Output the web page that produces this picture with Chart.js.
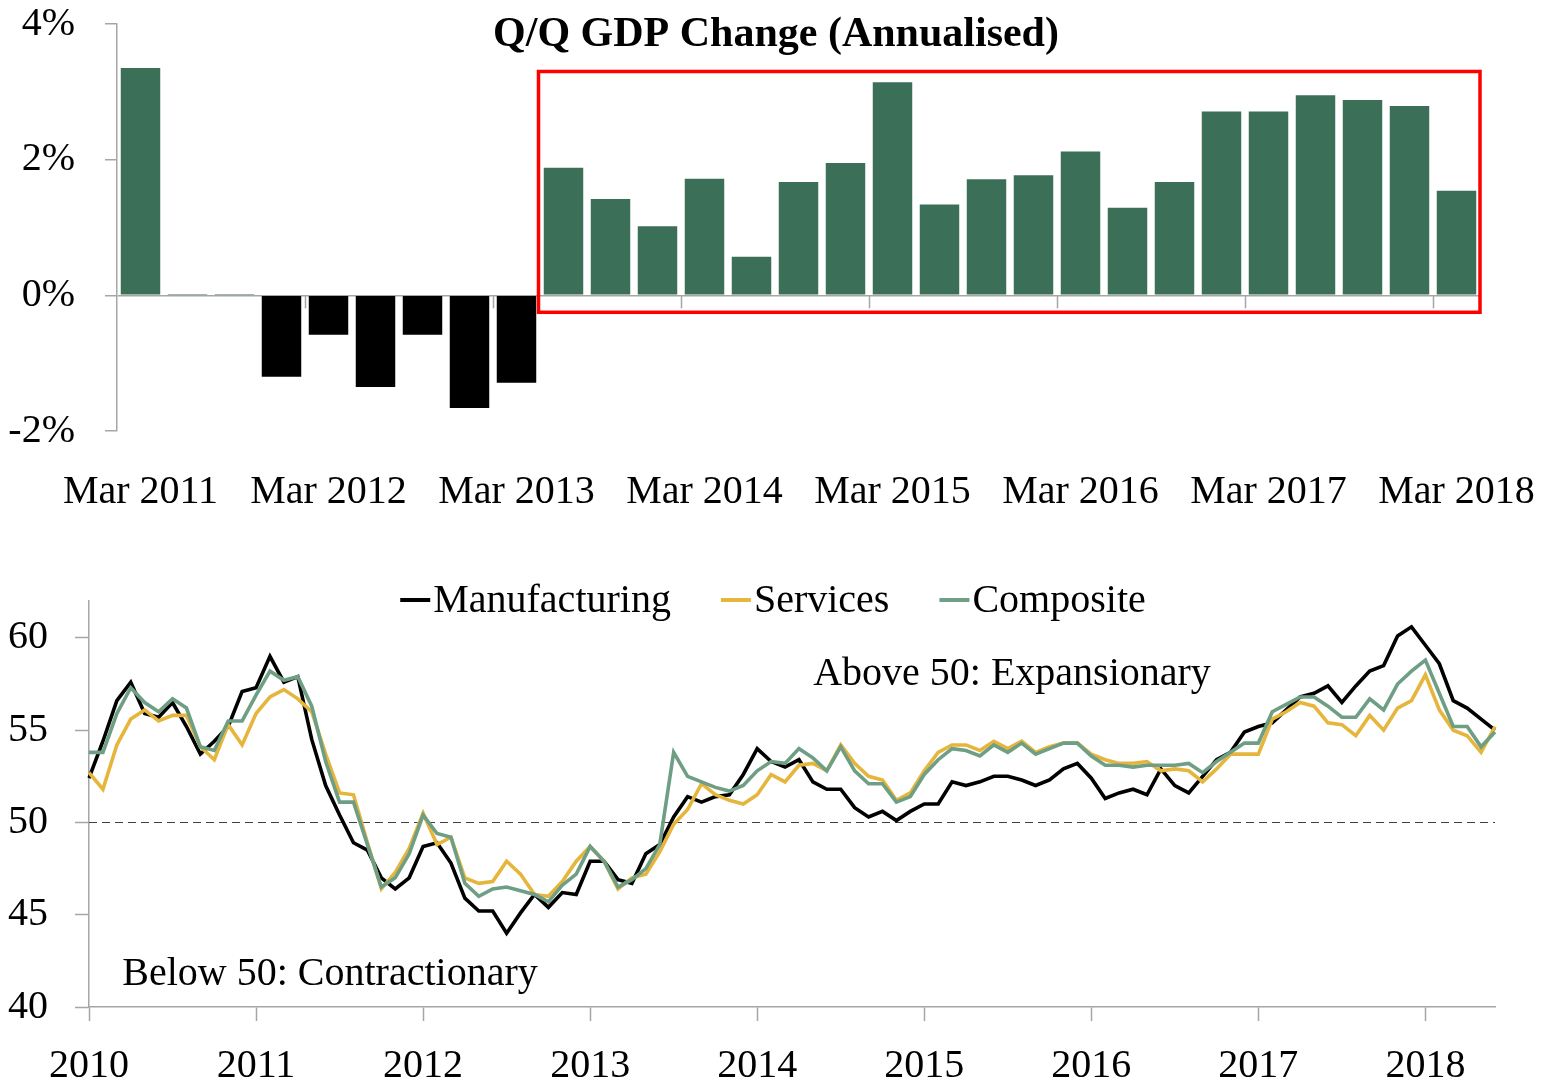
<!DOCTYPE html>
<html>
<head>
<meta charset="utf-8">
<script src="https://cdn.jsdelivr.net/npm/chart.js@4.4.1/dist/chart.umd.min.js"></script>
<style>
  html, body { margin: 0; padding: 0; background: #ffffff; overflow: hidden; }
  #wrap { position: relative; width: 1556px; height: 1083px; }
  #c1 { position: absolute; left: 0; top: 0; }
  #c2 { position: absolute; left: 0; top: 520px; }
</style>
</head>
<body>
<div id="wrap">
  <canvas id="c1" width="1556" height="520"></canvas>
  <canvas id="c2" width="1556" height="563"></canvas>
</div>
<script>
// ---------------- DATA ----------------
const GDP_TITLE = 'Q/Q GDP Change (Annualised)';
const QUARTERS = ['Mar 2011','Jun 2011','Sep 2011','Dec 2011','Mar 2012','Jun 2012','Sep 2012','Dec 2012',
  'Mar 2013','Jun 2013','Sep 2013','Dec 2013','Mar 2014','Jun 2014','Sep 2014','Dec 2014',
  'Mar 2015','Jun 2015','Sep 2015','Dec 2015','Mar 2016','Jun 2016','Sep 2016','Dec 2016',
  'Mar 2017','Jun 2017','Sep 2017','Dec 2017','Mar 2018'];
const GDP_QQ = [3.35, 0.02, 0.02, -1.2, -0.58, -1.35, -0.58, -1.66,
  -1.29, 1.88, 1.42, 1.02, 1.72, 0.57, 1.67, 1.95,
  3.14, 1.34, 1.71, 1.77, 2.12, 1.29, 1.67, 2.71,
  2.71, 2.95, 2.88, 2.79, 1.54];
const GDP_TICKS = [-2, 0, 2, 4];
const HIGHLIGHT_FROM = 'Jun 2013';
const HIGHLIGHT_TO = 'Mar 2018';
const HIGHLIGHT_TOP = 3.3;
const HIGHLIGHT_BOTTOM = -0.25;

// monthly categories Jan 2010 .. Jun 2018
const MONTHS = [];
for (let y = 2010; y <= 2018; y++) {
  for (let m = 1; m <= 12; m++) {
    if (y === 2018 && m > 6) break;
    MONTHS.push(y + '-' + String(m).padStart(2, '0'));
  }
}
const YEAR_TICKS = ['2010','2011','2012','2013','2014','2015','2016','2017','2018'];
const PMI_TICKS = [40, 45, 50, 55, 60];

const MANUFACTURING = [
  52.4, 54.4, 56.6, 57.6, 55.9, 55.7, 56.5, 55.2, 53.7, 54.4, 55.2, 57.1,
  57.3, 59.0, 57.6, 57.9, 54.5, 52.0, 50.4, 48.9, 48.5, 47.0, 46.4, 47.0,
  48.7, 48.9, 47.8, 45.9, 45.2, 45.2, 44.0, 45.1, 46.1, 45.4, 46.2, 46.1,
  47.9, 47.9, 46.9, 46.7, 48.3, 48.8, 50.3, 51.4, 51.1, 51.4, 51.5, 52.6,
  54.0, 53.3, 53.0, 53.4, 52.2, 51.8, 51.8, 50.8, 50.3, 50.6, 50.1, 50.6,
  51.0, 51.0, 52.2, 52.0, 52.2, 52.5, 52.5, 52.3, 52.0, 52.3, 52.9, 53.2,
  52.4, 51.3, 51.6, 51.8, 51.5, 52.9, 52.0, 51.6, 52.5, 53.4, 53.8, 54.9,
  55.2, 55.4, 56.1, 56.8, 57.0, 57.4, 56.5, 57.4, 58.2, 58.5, 60.1, 60.6,
  59.6, 58.6, 56.6, 56.2, 55.6, 55.0];
const SERVICES = [
  52.7, 51.8, 54.2, 55.6, 56.1, 55.5, 55.8, 55.8, 54.1, 53.4, 55.3, 54.2,
  55.9, 56.8, 57.2, 56.7, 56.0, 53.7, 51.6, 51.5, 48.9, 46.4, 47.3, 48.6,
  50.5, 48.8, 49.2, 47.0, 46.7, 46.8, 47.9, 47.2, 46.1, 46.0, 46.8, 47.9,
  48.7, 47.9, 46.4, 47.0, 47.2, 48.4, 49.9, 50.7, 52.1, 51.5, 51.2, 51.0,
  51.5, 52.6, 52.2, 53.1, 53.2, 52.8, 54.2, 53.2, 52.5, 52.3, 51.2, 51.6,
  52.8, 53.8, 54.2, 54.2, 53.9, 54.4, 54.0, 54.4, 53.8, 54.1, 54.3, 54.3,
  53.7, 53.4, 53.2, 53.2, 53.3, 52.8, 52.9, 52.8, 52.2, 52.9, 53.7, 53.7,
  53.7, 55.6, 56.0, 56.5, 56.3, 55.4, 55.3, 54.7, 55.8, 55.0, 56.2, 56.6,
  58.0, 56.1, 55.0, 54.7, 53.8, 55.2];
const COMPOSITE = [
  53.8, 53.8, 55.9, 57.3, 56.5, 56.0, 56.7, 56.2, 54.1, 53.9, 55.5, 55.5,
  56.9, 58.2, 57.7, 57.9, 56.3, 53.3, 51.1, 51.1, 48.8, 46.5, 47.0, 48.3,
  50.4, 49.4, 49.2, 46.7, 46.0, 46.4, 46.5, 46.3, 46.1, 45.7, 46.6, 47.2,
  48.7, 47.9, 46.5, 46.9, 47.5, 48.8, 53.8, 52.5, 52.2, 51.9, 51.7, 52.0,
  52.8, 53.3, 53.2, 54.0, 53.5, 52.8, 54.1, 52.8, 52.1, 52.1, 51.1, 51.4,
  52.6, 53.4, 54.0, 53.9, 53.6, 54.2, 53.8, 54.3, 53.7, 54.0, 54.3, 54.3,
  53.6, 53.1, 53.1, 53.0, 53.1, 53.1, 53.1, 53.2, 52.7, 53.3, 53.8, 54.3,
  54.3, 56.0, 56.4, 56.8, 56.8, 56.3, 55.7, 55.7, 56.7, 56.1, 57.5, 58.2,
  58.8, 57.0, 55.2, 55.2, 54.1, 54.9];
const THRESHOLD = 50;
const LABEL_ABOVE = 'Above 50: Expansionary';
const LABEL_BELOW = 'Below 50: Contractionary';

// ---------------- STYLE ----------------
const FONT = "'Liberation Serif', 'Times New Roman', serif";
const AXIS_GREY = '#a6a6a6';
const GREEN = '#3c6f58';
const C_MAN = '#000000';
const C_SER = '#e6b53c';
const C_COM = '#6e9e84';

Chart.defaults.font.family = FONT;
Chart.defaults.font.size = 40;
Chart.defaults.color = '#000000';
Chart.defaults.animation = false;

// ---------------- TOP: GDP bars ----------------
const gdpDecor = {
  id: 'gdpDecor',
  afterDatasetsDraw(chart) {
    const ctx = chart.ctx, xs = chart.scales.x, ys = chart.scales.y;
    const half = (xs.getPixelForValue(1) - xs.getPixelForValue(0)) / 2;
    const y0 = ys.getPixelForValue(0);
    ctx.save();
    // tick marks on the zero line at each March
    ctx.strokeStyle = AXIS_GREY; ctx.lineWidth = 1.5;
    QUARTERS.forEach((q, i) => {
      if (i > 0 && q.startsWith('Mar')) {
        const x = Math.round(xs.getPixelForValue(i) - half) + 0.5;
        ctx.beginPath(); ctx.moveTo(x, y0); ctx.lineTo(x, y0 + 13); ctx.stroke();
      }
    });
    // highlight box
    const iFrom = QUARTERS.indexOf(HIGHLIGHT_FROM), iTo = QUARTERS.indexOf(HIGHLIGHT_TO);
    const L = xs.getPixelForValue(iFrom) - half - 1.5;
    const R = xs.getPixelForValue(iTo) + half;
    const T = ys.getPixelForValue(HIGHLIGHT_TOP);
    const B = ys.getPixelForValue(HIGHLIGHT_BOTTOM);
    ctx.strokeStyle = '#ff0000'; ctx.lineWidth = 3.5;
    ctx.strokeRect(L, T, R - L, B - T);
    // title
    ctx.fillStyle = '#000';
    ctx.font = 'bold 42px ' + FONT;
    ctx.textAlign = 'center'; ctx.textBaseline = 'alphabetic';
    ctx.fillText(GDP_TITLE, 776, 46);
    ctx.restore();
  }
};

new Chart(document.getElementById('c1'), {
  type: 'bar',
  data: {
    labels: QUARTERS,
    datasets: [{
      data: GDP_QQ,
      backgroundColor: GDP_QQ.map(v => v < 0 ? '#000000' : GREEN),
      borderWidth: 0,
      barPercentage: 0.84,
      categoryPercentage: 1.0
    }]
  },
  options: {
    responsive: false,
    layout: { padding: { top: 24, right: 76, left: 0, bottom: 0 } },
    plugins: { legend: { display: false }, tooltip: { enabled: false }, title: { display: false } },
    scales: {
      x: {
        grid: { display: false },
        border: { display: false },
        ticks: {
          autoSkip: false, maxRotation: 0, minRotation: 0, padding: 29,
          callback: function (v, i) { return QUARTERS[i].startsWith('Mar') ? QUARTERS[i] : ''; }
        },
        afterFit: s => { s.height = 89; s.paddingLeft = 0; s.paddingRight = 0; }
      },
      y: {
        min: GDP_TICKS[0], max: GDP_TICKS[GDP_TICKS.length - 1],
        afterBuildTicks: s => { s.ticks = GDP_TICKS.map(v => ({ value: v })); },
        ticks: { padding: 30, callback: v => v + '%' },
        grid: {
          color: c => (c.tick && c.tick.value === 0) ? AXIS_GREY : 'rgba(0,0,0,0)',
          lineWidth: 1.5, tickColor: AXIS_GREY, tickLength: 12, tickWidth: 1.5
        },
        border: { display: true, color: AXIS_GREY, width: 1.5 },
        afterFit: s => { s.width = 117; s.paddingTop = 0; s.paddingBottom = 0; }
      }
    }
  },
  plugins: [gdpDecor]
});

// ---------------- BOTTOM: PMI lines ----------------
const pmiDecor = {
  id: 'pmiDecor',
  beforeDatasetsDraw(chart) {
    const ctx = chart.ctx, ys = chart.scales.y, a = chart.chartArea;
    const y = Math.round(ys.getPixelForValue(THRESHOLD)) + 0.5;
    ctx.save();
    ctx.strokeStyle = '#404040'; ctx.lineWidth = 1.2; ctx.setLineDash([8, 5]);
    ctx.beginPath(); ctx.moveTo(a.left, y); ctx.lineTo(a.right, y); ctx.stroke();
    ctx.restore();
  },
  afterDatasetsDraw(chart) {
    const ctx = chart.ctx;
    ctx.save();
    ctx.font = '40px ' + FONT;
    ctx.fillStyle = '#000';
    ctx.textBaseline = 'alphabetic';
    // legend
    const marker = 30, gapMT = 3, gapItems = 50;
    const items = chart.data.datasets.map(d => ({ text: d.label, color: d.borderColor, w: ctx.measureText(d.label).width }));
    const total = items.reduce((s, it) => s + marker + gapMT + it.w, 0) + gapItems * (items.length - 1);
    let x = 773 - total / 2;
    items.forEach(it => {
      ctx.strokeStyle = it.color; ctx.lineWidth = 4;
      ctx.beginPath(); ctx.moveTo(x, 80); ctx.lineTo(x + marker, 80); ctx.stroke();
      ctx.textAlign = 'left';
      ctx.fillText(it.text, x + marker + gapMT, 92);
      x += marker + gapMT + it.w + gapItems;
    });
    // annotations
    ctx.textAlign = 'center';
    ctx.fillText(LABEL_ABOVE, 1012, 165);
    ctx.fillText(LABEL_BELOW, 330, 465);
    ctx.restore();
  }
};

new Chart(document.getElementById('c2'), {
  type: 'line',
  data: {
    labels: MONTHS,
    datasets: [
      { label: 'Manufacturing', data: MANUFACTURING, borderColor: C_MAN, backgroundColor: C_MAN, order: 2 },
      { label: 'Services', data: SERVICES, borderColor: C_SER, backgroundColor: C_SER, order: 1 },
      { label: 'Composite', data: COMPOSITE, borderColor: C_COM, backgroundColor: C_COM, order: 0 }
    ]
  },
  options: {
    responsive: false,
    layout: { padding: { top: 81, right: 61, left: 0, bottom: 0 } },
    elements: {
      line: { borderWidth: 3.6, tension: 0, fill: false, borderJoinStyle: 'miter' },
      point: { radius: 0, hoverRadius: 0 }
    },
    plugins: { legend: { display: false }, tooltip: { enabled: false } },
    scales: {
      x: {
        offset: false,
        ticks: {
          autoSkip: false, maxRotation: 0, minRotation: 0, padding: 21,
          callback: function (v, i) {
            const lab = MONTHS[i];
            return lab.endsWith('-01') && YEAR_TICKS.includes(lab.slice(0, 4)) ? lab.slice(0, 4) : '';
          }
        },
        grid: {
          drawOnChartArea: false, tickLength: 14, tickWidth: 1.5,
          tickColor: c => (MONTHS[c.index] && MONTHS[c.index].endsWith('-01')) ? AXIS_GREY : 'rgba(0,0,0,0)',
          color: 'rgba(0,0,0,0)'
        },
        border: { display: true, color: AXIS_GREY, width: 1.5 },
        afterFit: s => { s.height = 76; s.paddingLeft = 0; s.paddingRight = 0; }
      },
      y: {
        min: 40, max: 62,
        afterBuildTicks: s => { s.ticks = PMI_TICKS.map(v => ({ value: v })); },
        ticks: { padding: 27 },
        grid: { drawOnChartArea: false, tickLength: 14, tickWidth: 1.5, tickColor: AXIS_GREY, color: AXIS_GREY },
        border: { display: true, color: AXIS_GREY, width: 1.5 },
        afterFit: s => { s.width = 89; s.paddingTop = 0; s.paddingBottom = 0; }
      }
    }
  },
  plugins: [pmiDecor]
});
</script>
</body>
</html>
